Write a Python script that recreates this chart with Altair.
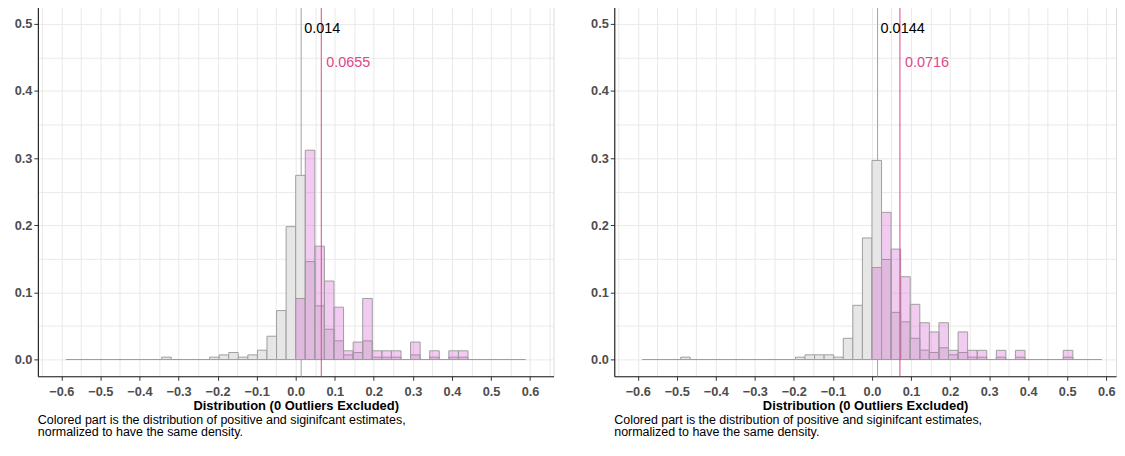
import altair as alt
import pandas as pd

FONT = "Liberation Sans, Arial, Helvetica, sans-serif"

# Histogram bins: fixed width, indexed from -24 (left edge -0.588) to 23
BIN_WIDTH = 0.0245
FIRST_NEG_BIN = -24
FIRST_POS_BIN = 0

# ---------- Left panel (share of estimates per bin) ----------
LEFT_ALL_NEG = [0, 0, 0, 0, 0, 0, 0, 0, 0, 0,
                0.0035, 0, 0, 0, 0,
                0.0035, 0.0069, 0.0104, 0.0035, 0.0069, 0.0139, 0.0347, 0.0729, 0.1979]
LEFT_ALL_POS = [0.2743, 0.1458, 0.0799, 0.0451, 0.0278, 0.0069, 0.0104, 0.0278,
                0.0035, 0.0035, 0.0035, 0, 0.0069, 0, 0.0035, 0, 0.0035, 0.0035,
                0, 0, 0, 0, 0, 0]
LEFT_SIG = [0.0909, 0.3117, 0.1688, 0.1169, 0.0779, 0.0130, 0.0260, 0.0909,
            0.0130, 0.0130, 0.0130, 0, 0.0260, 0, 0.0130, 0, 0.0130, 0.0130,
            0, 0, 0, 0, 0, 0]
LEFT_MEDIAN_ALL = 0.014
LEFT_MEDIAN_SIG = 0.0655

# ---------- Right panel ----------
RIGHT_ALL_NEG = [0, 0, 0, 0,
                 0.0035, 0, 0, 0, 0, 0, 0, 0, 0, 0, 0, 0,
                 0.0035, 0.0070, 0.0070, 0.0070, 0.0035, 0.0316, 0.0807, 0.1810]
RIGHT_ALL_POS = [0.2965, 0.1490, 0.0702, 0.0561, 0.0316, 0.0140, 0.0105, 0.0175,
                 0.0070, 0.0105, 0.0035, 0.0035, 0, 0.0035, 0, 0.0035, 0, 0, 0, 0,
                 0.0035, 0, 0, 0]
RIGHT_SIG = [0.1370, 0.2192, 0.1644, 0.1233, 0.0822, 0.0548, 0.0411, 0.0548,
             0.0137, 0.0411, 0.0137, 0.0137, 0, 0.0137, 0, 0.0137, 0, 0, 0, 0,
             0.0137, 0, 0, 0]
RIGHT_MEDIAN_ALL = 0.0144
RIGHT_MEDIAN_SIG = 0.0716

X_TICKS = [-0.6, -0.5, -0.4, -0.3, -0.2, -0.1, 0.0, 0.1, 0.2, 0.3, 0.4, 0.5, 0.6]
X_GRID = [-0.65, -0.6, -0.55, -0.5, -0.45, -0.4, -0.35, -0.3, -0.25, -0.2, -0.15, -0.1,
          -0.05, 0.0, 0.05, 0.1, 0.15, 0.2, 0.25, 0.3, 0.35, 0.4, 0.45, 0.5, 0.55, 0.6, 0.65]
Y_TICKS = [0.0, 0.1, 0.2, 0.3, 0.4, 0.5]
Y_GRID = [0.0, 0.05, 0.1, 0.15, 0.2, 0.25, 0.3, 0.35, 0.4, 0.45, 0.5]

X_TITLE = "Distribution (0 Outliers Excluded)"
CAPTION = ["Colored part is the distribution of positive and siginifcant estimates,",
           "normalized to have the same density."]

GRAY_FILL = "#e6e6e6"
OUTLINE = "#9e9e9e"
PINK_FILL = "#d055cd"
PINK_LINE = "#e0468a"


def bins(heights, first):
    rows = []
    for i, h in enumerate(heights):
        k = first + i
        rows.append({"lo": k * BIN_WIDTH, "hi": (k + 1) * BIN_WIDTH, "h": h})
    return pd.DataFrame(rows)


def panel(all_neg, all_pos, sig, med_all, med_sig, xmax, width):
    xs = alt.Scale(domain=[-0.66, xmax], nice=False, zero=False)
    ys = alt.Scale(domain=[-0.025, 0.525], nice=False, zero=False)

    gray_df = pd.concat([bins(all_neg, FIRST_NEG_BIN), bins(all_pos, FIRST_POS_BIN)],
                        ignore_index=True)
    pink_df = bins(sig, FIRST_POS_BIN)
    pink_df = pink_df[pink_df["h"] > 0]

    grid_x = alt.Axis(values=[v for v in X_GRID if v <= xmax], grid=True, gridColor="#e9e9e9",
                      gridWidth=1, labels=False, ticks=False, domain=False, title=None,
                      orient="bottom")
    grid_y = alt.Axis(values=Y_GRID, grid=True, gridColor="#e9e9e9", gridWidth=1,
                      labels=False, ticks=False, domain=False, title=None, orient="left")
    lab_x = alt.Axis(values=X_TICKS, grid=False, format=".1f", orient="bottom",
                     labelFont=FONT, labelFontSize=12.8, labelFontWeight="bold",
                     labelColor="#4d4d4d", labelPadding=5, tickColor="#333333",
                     tickSize=4, tickWidth=1, domainColor="#1a1a1a", domainWidth=1.1,
                     title=X_TITLE, titleFont=FONT, titleFontSize=13,
                     titleFontWeight="bold", titleColor="black", titlePadding=2)
    lab_y = alt.Axis(values=Y_TICKS, grid=False, format=".1f", orient="left",
                     labelFont=FONT, labelFontSize=12.8, labelFontWeight="bold",
                     labelColor="#4d4d4d", labelPadding=2, tickColor="#333333",
                     tickSize=4, tickWidth=1, domainColor="#1a1a1a", domainWidth=1.1,
                     title=None)

    med_df = pd.DataFrame({"x": [med_all], "y": [0.492], "label": [str(med_all)]})
    sig_df = pd.DataFrame({"x": [med_sig], "y": [0.442], "label": [str(med_sig)]})

    gray_rule = alt.Chart(med_df).mark_rule(color="#a0a0a0", strokeWidth=1).encode(
        x=alt.X("x:Q", scale=xs, axis=None))
    gray_bars = alt.Chart(gray_df).mark_rect(
        fill=GRAY_FILL, stroke=OUTLINE, strokeWidth=1).encode(
        x=alt.X("lo:Q", scale=xs, axis=grid_x), x2="hi:Q",
        y=alt.Y("h:Q", scale=ys, axis=grid_y), y2=alt.datum(0))
    pink_bars = alt.Chart(pink_df).mark_rect(
        fill=PINK_FILL, fillOpacity=0.3, stroke=OUTLINE, strokeWidth=1).encode(
        x=alt.X("lo:Q", scale=xs, axis=lab_x), x2="hi:Q",
        y=alt.Y("h:Q", scale=ys, axis=lab_y), y2=alt.datum(0))
    pink_rule = alt.Chart(sig_df).mark_rule(color=PINK_LINE, strokeWidth=1).encode(
        x=alt.X("x:Q", scale=xs, axis=None))
    med_text = alt.Chart(med_df).mark_text(
        align="left", baseline="middle", dx=3, font=FONT, fontSize=14.5, color="black").encode(
        x=alt.X("x:Q", scale=xs, axis=None), y=alt.Y("y:Q", scale=ys, axis=None),
        text="label:N")
    sig_text = alt.Chart(sig_df).mark_text(
        align="left", baseline="middle", dx=5, font=FONT, fontSize=14.5, color=PINK_LINE).encode(
        x=alt.X("x:Q", scale=xs, axis=None), y=alt.Y("y:Q", scale=ys, axis=None),
        text="label:N")

    return alt.layer(gray_rule, gray_bars, pink_bars, pink_rule, med_text, sig_text).resolve_axis(
        x="independent", y="independent").properties(
        width=width, height=371,
        title=alt.TitleParams(text=CAPTION, orient="bottom", anchor="start", frame="group",
                              font=FONT, fontSize=12.5, fontWeight="normal", color="black",
                              offset=1, lineHeight=12.5))


left = panel(LEFT_ALL_NEG, LEFT_ALL_POS, LEFT_SIG, LEFT_MEDIAN_ALL, LEFT_MEDIAN_SIG, 0.66, 518)
right = panel(RIGHT_ALL_NEG, RIGHT_ALL_POS, RIGHT_SIG, RIGHT_MEDIAN_ALL, RIGHT_MEDIAN_SIG, 0.625, 504)

chart = alt.hconcat(left, right, spacing=35).properties(
    padding={"left": 5, "top": -3, "right": 0, "bottom": 0}
).configure_view(stroke=None).configure(background="white")

chart.save("out.html", embed_options={"renderer": "svg", "actions": False})
